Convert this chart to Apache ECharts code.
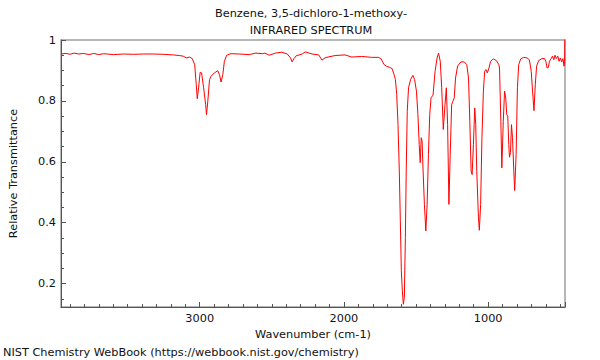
<!DOCTYPE html>
<html>
<head>
<meta charset="utf-8">
<script src="https://cdn.jsdelivr.net/npm/echarts@6/dist/echarts.min.js"></script>
<style>
html,body{margin:0;padding:0;background:#fff;}
#chart{width:600px;height:360px;}
</style>
</head>
<body>
<div id="chart"></div>
<script>
// ---- data ----
const titleLine1 = "Benzene, 3,5-dichloro-1-methoxy-";
const titleLine2 = "INFRARED SPECTRUM";
const xAxisName = "Wavenumber (cm-1)";
const yAxisName = "Relative Transmittance";
const footer = "NIST Chemistry WebBook (https://webbook.nist.gov/chemistry)";
const xRange = [467, 3962];
const yRange = [0.123, 1];

const wavenumber = [
 3962,3927,3899,3872,3838,3804,3769,3735,3700,3666,3597,3528,3460,3391,3322,3253,3184,3143,3115,3093,
 3070,3052,3035,3024,3017,3008,2997,2987,2973,2959,2953,2944,2932,2921,2898,2875,2863,2852,2840,2829,
 2813,2783,2726,2657,2611,2565,2547,2519,2474,2432,2393,2370,2359,2348,2331,2290,2267,2221,2175,2152,
 2130,2061,1992,1946,1877,1808,1762,1744,1721,1705,1683,1666,1652,1643,1634,1625,1616,1609,1602,1595,
 1588,1581,1574,1568,1561,1552,1538,1522,1510,1497,1487,1478,1471,1464,1458,1451,1442,1432,1423,1414,
 1405,1396,1382,1368,1354,1344,1332,1322,1311,1299,1290,1281,1272,1263,1253,1244,1235,1226,1212,1189,
 1166,1148,1136,1127,1118,1111,1102,1093,1086,1079,1067,1061,1052,1043,1033,1024,1015,1006,994,983,
 964,942,926,921,912,905,895,886,878,871,864,857,852,845,838,831,822,816,806,797,
 788,774,754,730,714,701,692,682,673,664,650,627,609,600,591,582,575,563,554,545,
 536,527,517,508,499,490,481,474,470,467
];
const transmittance = [
 0.954,0.956,0.953,0.957,0.954,0.956,0.952,0.956,0.952,0.955,0.952,0.954,0.953,0.954,0.954,0.953,0.951,0.949,0.947,0.941,
 0.944,0.939,0.919,0.853,0.807,0.843,0.894,0.892,0.843,0.788,0.755,0.799,0.870,0.881,0.892,0.899,0.886,0.862,0.886,0.930,
 0.950,0.955,0.954,0.952,0.957,0.955,0.957,0.950,0.957,0.960,0.954,0.941,0.928,0.938,0.948,0.954,0.961,0.954,0.951,0.934,
 0.942,0.949,0.951,0.944,0.946,0.943,0.943,0.939,0.919,0.914,0.910,0.906,0.886,0.870,0.821,0.722,0.570,0.406,0.242,0.176,
 0.132,0.154,0.351,0.570,0.766,0.843,0.870,0.884,0.870,0.832,0.755,0.657,0.597,0.679,0.668,0.570,0.460,0.373,0.460,0.624,
 0.755,0.810,0.819,0.897,0.941,0.957,0.930,0.843,0.706,0.788,0.843,0.722,0.460,0.624,0.788,0.799,0.810,0.875,0.914,0.928,
 0.928,0.919,0.875,0.733,0.570,0.558,0.657,0.777,0.722,0.570,0.416,0.375,0.460,0.679,0.832,0.897,0.903,0.892,0.908,0.930,
 0.938,0.932,0.919,0.908,0.733,0.580,0.733,0.832,0.810,0.755,0.750,0.657,0.615,0.630,0.722,0.679,0.570,0.506,0.624,0.843,
 0.919,0.938,0.943,0.941,0.935,0.897,0.832,0.768,0.853,0.914,0.932,0.939,0.939,0.930,0.908,0.910,0.930,0.939,0.947,0.935,
 0.950,0.939,0.947,0.930,0.941,0.928,0.939,0.914,0.928,1.05
];

const points = wavenumber.map((w, i) => [w, transmittance[i]]);

const chart = echarts.init(document.getElementById('chart'), null, {renderer: 'svg'});
const FONT = 'DejaVu Sans';
const FS = 11.3;
const axisColor = '#555';
chart.setOption({
  animation: false,
  backgroundColor: '#fff',
  textStyle: {fontFamily: FONT},
  grid: {left: 57, right: 35, top: 40, bottom: 53, show: true, borderColor: '#a0a0a0', borderWidth: 1.5, containLabel: false},
  graphic: [
    {type: 'text', x: 311, y: 13, style: {text: titleLine1, font: FS + 'px "DejaVu Sans"', fill: '#111', align: 'center', verticalAlign: 'middle'}},
    {type: 'text', x: 311, y: 30, style: {text: titleLine2, font: FS + 'px "DejaVu Sans"', fill: '#111', align: 'center', verticalAlign: 'middle'}},
    {type: 'text', x: 3, y: 352, style: {text: footer, font: FS + 'px "DejaVu Sans"', fill: '#111', align: 'left', verticalAlign: 'middle'}}
  ],
  xAxis: [
    {type: 'value', min: xRange[0], max: xRange[1], inverse: true, splitNumber: 35, position: 'bottom',
     axisLine: {show: true, lineStyle: {color: axisColor, width: 1}},
     axisTick: {show: true, inside: true, length: 3, lineStyle: {color: axisColor}},
     axisLabel: {show: false}, splitLine: {show: false}},
    {type: 'value', min: xRange[0], max: xRange[1], inverse: true, splitNumber: 3, position: 'bottom',
     axisLine: {show: false},
     axisTick: {show: true, inside: true, length: 5, lineStyle: {color: axisColor}},
     axisLabel: {show: true, margin: 6, color: '#111', fontSize: FS, fontFamily: FONT,
                 formatter: v => (v % 1000 === 0 ? String(v) : '')},
     splitLine: {show: false},
     name: xAxisName, nameLocation: 'middle', nameGap: 18,
     nameTextStyle: {color: '#111', fontSize: FS, fontFamily: FONT}}
  ],
  yAxis: [
    {type: 'value', min: yRange[0], max: yRange[1], splitNumber: 18, position: 'left',
     axisLine: {show: true, lineStyle: {color: axisColor, width: 1}},
     axisTick: {show: true, inside: true, length: 3, lineStyle: {color: axisColor}},
     axisLabel: {show: false}, splitLine: {show: false}},
    {type: 'value', min: yRange[0], max: yRange[1], splitNumber: 4, position: 'left',
     axisLine: {show: false},
     axisTick: {show: true, inside: true, length: 5, lineStyle: {color: axisColor}},
     axisLabel: {show: true, margin: 5, color: '#111', fontSize: FS, fontFamily: FONT,
                 formatter: v => (v < 0.15 ? '' : String(Math.round(v * 10) / 10))},
     splitLine: {show: false},
     name: yAxisName, nameLocation: 'middle', nameGap: 42, nameRotate: 90,
     nameTextStyle: {color: '#111', fontSize: FS, fontFamily: FONT}}
  ],
  series: [{
    type: 'line', xAxisIndex: 0, yAxisIndex: 0, data: points,
    showSymbol: false, symbol: 'none', smooth: false, clip: true,
    lineStyle: {color: '#ff0000', width: 1}
  }]
});
</script>
</body>
</html>
